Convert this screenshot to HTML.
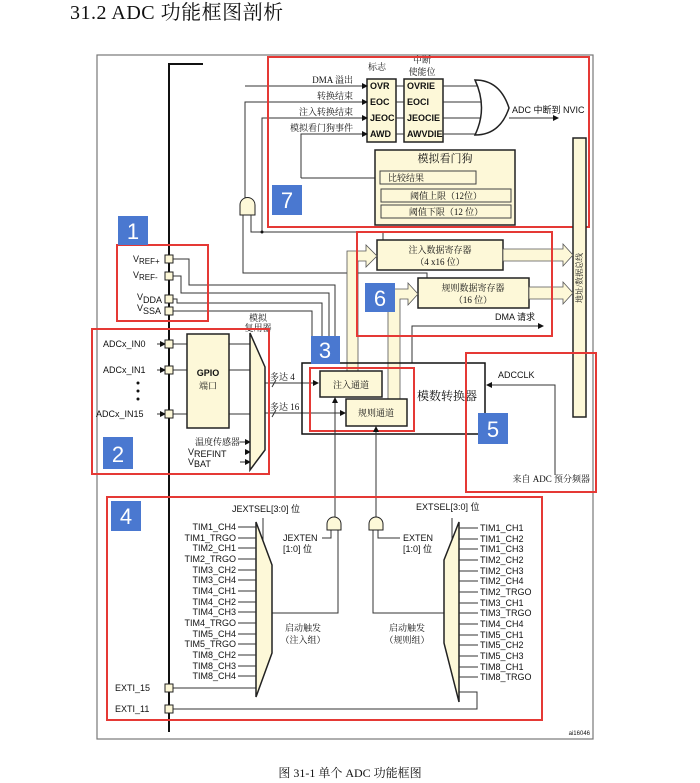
<!DOCTYPE html>
<html><head><meta charset="utf-8"><style>
html,body{margin:0;padding:0;background:#fff;}
svg{display:block;}
text{font-family:"Liberation Sans","Noto Sans CJK SC",sans-serif;fill:#111;}
.s{font-size:9px;}
.c{font-family:"Liberation Serif","Noto Serif CJK SC",serif;font-size:9px;}
.ln{stroke:#333;stroke-width:1;fill:none;}
.y{fill:#fdf8d8;stroke:#222;stroke-width:1.5;}
.r{fill:none;stroke:#e53935;stroke-width:2;}
.b{fill:#4a78d0;}
.bn{fill:#fff;font-size:22px;font-family:"Liberation Sans",sans-serif;}
.pad{fill:#fdf8d8;stroke:#222;stroke-width:1;}
</style></head><body>
<svg width="700" height="783" viewBox="0 0 700 783" xmlns="http://www.w3.org/2000/svg">
<defs><marker id="a" markerWidth="6" markerHeight="6" refX="5" refY="3" orient="auto"><path d="M0,0 L6,3 L0,6z" fill="#111"/></marker></defs>
<text x="70" y="19" style="font-family:'Liberation Serif','Noto Serif CJK SC',serif;font-size:20px;letter-spacing:0.5px">31.2  ADC 功能框图剖析</text>
<rect x="97" y="55" width="496" height="684" fill="none" stroke="#777" stroke-width="1.2"/>
<text x="350" y="777" text-anchor="middle" style="font-family:'Liberation Serif','Noto Serif CJK SC',serif;font-size:12px">图 31-1 单个 ADC 功能框图</text>
<text x="590" y="735" text-anchor="end" style="font-size:6px">ai16046</text>

<path d="M203,64 H169 V732" stroke="#111" stroke-width="2" fill="none"/>

<text x="377" y="70" class="c" text-anchor="middle">标志</text>
<text x="422" y="63" class="c" text-anchor="middle">中断</text>
<text x="422" y="75" class="c" text-anchor="middle">使能位</text>
<rect x="367" y="79" width="29" height="63" class="y"/>
<rect x="404" y="79" width="39" height="63" class="y"/>
<g class="s" font-weight="bold">
<text x="370" y="89">OVR</text><text x="370" y="105">EOC</text><text x="370" y="121">JEOC</text><text x="370" y="137">AWD</text>
<text x="407" y="89">OVRIE</text><text x="407" y="105">EOCI</text><text x="407" y="121">JEOCIE</text><text x="407" y="137">AWVDIE</text>
</g>
<g class="ln">
<path d="M245,86 H367" marker-end="url(#a)"/>
<path d="M245,198 V102 H367" marker-end="url(#a)"/>
<path d="M262,232 V118 H367" marker-end="url(#a)"/>
<path d="M301,178 V134 H367" marker-end="url(#a)"/>
<path d="M301,178 H380"/>
<path d="M396,86 H404 M396,102 H404 M396,118 H404 M396,134 H404"/>
<path d="M443,86 H480 M443,102 H484 M443,118 H484 M443,134 H480"/>
<path d="M509,118 H558" marker-end="url(#a)"/>
</g>
<path d="M475,80 Q500,80 509,108 Q500,135 475,135 Q488,108 475,80z" fill="#fff" stroke="#222" stroke-width="1.5"/>
<text x="353" y="83" class="c" text-anchor="end">DMA 溢出</text>
<text x="353" y="99" class="c" text-anchor="end">转换结束</text>
<text x="353" y="115" class="c" text-anchor="end">注入转换结束</text>
<text x="353" y="131" class="c" text-anchor="end">模拟看门狗事件</text>
<text x="512" y="113" class="s">ADC 中断到 NVIC</text>
<rect x="375" y="150" width="140" height="75" class="y"/>
<text x="445" y="162" class="c" text-anchor="middle" style="font-size:11px">模拟看门狗</text>
<rect x="380" y="171" width="96" height="13" fill="#fdf8d8" stroke="#444"/>
<text x="388" y="181" class="c">比较结果</text>
<rect x="381" y="189" width="130" height="13" fill="#fdf8d8" stroke="#444"/>
<text x="446" y="199" class="c" text-anchor="middle">阈值上限（12位）</text>
<rect x="381" y="205" width="130" height="13" fill="#fdf8d8" stroke="#444"/>
<text x="446" y="215" class="c" text-anchor="middle">阈值下限（12 位）</text>
<path d="M240,215 V205 A7.5,7.5 0 0 1 255,205 V215z" fill="#fdf8d8" stroke="#222"/>
<g class="ln"><path d="M243,215 V273 H427 V278"/><path d="M251,215 V232 H383 V240"/></g>
<circle cx="262" cy="232" r="1.5" fill="#111"/>
<rect x="268" y="57" width="321" height="170" class="r"/>
<rect x="272" y="185" width="30" height="30" class="b"/><text x="287" y="208" class="bn" text-anchor="middle">7</text>

<rect x="573" y="138" width="13" height="279" fill="#fdf8d8" stroke="#222" stroke-width="1.5"/>
<text transform="translate(582,278) rotate(-90)" class="c" text-anchor="middle" style="font-size:8px">地址/数据总线</text>

<rect x="377" y="240" width="126" height="30" class="y"/>
<text x="440" y="253" class="c" text-anchor="middle">注入数据寄存器</text>
<text x="440" y="265" class="c" text-anchor="middle">（4 x16 位）</text>
<rect x="418" y="278" width="111" height="30" class="y"/>
<text x="473" y="291" class="c" text-anchor="middle">规则数据寄存器</text>
<text x="473" y="303" class="c" text-anchor="middle">（16 位）</text>
<g fill="#fdf8d8" stroke="#555" stroke-width="0.8">
<path d="M503,249 H563 V244 L573,255 L563,266 V261 H503z"/>
<path d="M529,287 H563 V282 L573,293 L563,304 V299 H529z"/>
<path d="M347,371 V251 H366 V245 L377,256 L366,267 V261 H358 V371z"/>
<path d="M388,399 V289 H408 V283 L418,294 L408,305 V299 H400 V399z"/>
</g>
<path d="M412,363 V326 H543" class="ln" marker-end="url(#a)"/>
<text x="495" y="320" class="s">DMA 请求</text>
<rect x="357" y="232" width="195" height="104" class="r"/>
<rect x="365" y="283" width="30" height="29" class="b"/><text x="380" y="306" class="bn" text-anchor="middle">6</text>

<g class="ln">
<path d="M173,259 H189 V285 H335 V363"/>
<path d="M173,276 H181 V293 H329 V363"/>
<path d="M173,299 H177 V303 H322 V363"/>
<path d="M173,311 H312 V363"/>
</g>
<rect x="165" y="255" width="8" height="8" class="pad"/>
<rect x="165" y="272" width="8" height="8" class="pad"/>
<rect x="165" y="295" width="8" height="8" class="pad"/>
<rect x="165" y="307" width="8" height="8" class="pad"/>
<text x="133" y="262" class="s">V<tspan dy="2" font-size="8">REF+</tspan></text>
<text x="133" y="278" class="s">V<tspan dy="2" font-size="8">REF-</tspan></text>
<text x="137" y="300" class="s">V<tspan dy="3" font-size="9">DDA</tspan></text>
<text x="137" y="311" class="s">V<tspan dy="3" font-size="9">SSA</tspan></text>
<rect x="117" y="245" width="91" height="76" class="r"/>
<rect x="118" y="216" width="30" height="29" class="b"/><text x="133" y="239" class="bn" text-anchor="middle">1</text>

<g class="s">
<text x="103" y="347">ADCx_IN0</text><text x="103" y="373">ADCx_IN1</text><text x="96" y="417">ADCx_IN15</text>
</g>
<g class="ln">
<path d="M157,344 H165" marker-end="url(#a)"/><path d="M157,370 H165" marker-end="url(#a)"/><path d="M157,414 H165" marker-end="url(#a)"/>
<path d="M173,344 H187 M173,370 H187 M173,414 H187"/>
<path d="M229,344 H252 M229,370 H254 M229,414 H254"/>
<path d="M240,442 H250" marker-end="url(#a)"/><path d="M246,452 H250" marker-end="url(#a)"/><path d="M240,462 H250" marker-end="url(#a)"/>
<path d="M265,383 H318" marker-end="url(#a)"/><path d="M265,413 H345" marker-end="url(#a)"/>
<path d="M272,387 L276,380 M272,417 L276,410"/>
</g>
<rect x="165" y="340" width="8" height="8" class="pad"/>
<rect x="165" y="366" width="8" height="8" class="pad"/>
<rect x="165" y="410" width="8" height="8" class="pad"/>
<circle cx="138" cy="383" r="1.5" fill="#111"/><circle cx="138" cy="391" r="1.5" fill="#111"/><circle cx="138" cy="399" r="1.5" fill="#111"/>
<rect x="187" y="334" width="42" height="94" class="y"/>
<text x="208" y="376" class="s" text-anchor="middle" font-weight="bold">GPIO</text>
<text x="208" y="389" class="c" text-anchor="middle">端口</text>
<path d="M250,333 L265,367 V450 L250,470z" class="y" stroke-width="1"/>
<text x="258" y="321" class="c" text-anchor="middle">模拟</text>
<text x="258" y="331" class="c" text-anchor="middle">复用器</text>
<text x="240" y="445" class="c" text-anchor="end">温度传感器</text>
<text x="188" y="455" class="s">V<tspan dy="2">REFINT</tspan></text>
<text x="188" y="465" class="s">V<tspan dy="2">BAT</tspan></text>
<text x="270" y="380" class="c">多达 4</text>
<text x="270" y="410" class="c">多达 16</text>
<rect x="92" y="329" width="177" height="145" class="r"/>
<rect x="103" y="437" width="30" height="32" class="b"/><text x="118" y="462" class="bn" text-anchor="middle">2</text>

<rect x="302" y="363" width="183" height="71" fill="none" stroke="#111" stroke-width="1.5"/>
<rect x="320" y="371" width="62" height="26" class="y" stroke-width="1"/>
<text x="351" y="388" class="c" text-anchor="middle">注入通道</text>
<rect x="346" y="399" width="61" height="27" class="y" stroke-width="1"/>
<text x="376" y="416" class="c" text-anchor="middle">规则通道</text>
<text x="417" y="400" class="c" style="font-size:12px">模数转换器</text>
<rect x="310" y="368" width="104" height="63" class="r"/>
<rect x="311" y="336" width="29" height="28" class="b"/><text x="325" y="358" class="bn" text-anchor="middle">3</text>

<path d="M555,475 V385 H487" class="ln" marker-end="url(#a)"/>
<text x="498" y="378" class="s">ADCCLK</text>
<text x="590" y="482" class="c" text-anchor="end">来自 ADC 预分频器</text>
<rect x="466" y="353" width="130" height="139" class="r"/>
<rect x="478" y="413" width="30" height="31" class="b"/><text x="493" y="437" class="bn" text-anchor="middle">5</text>

<g class="ln">
<path d="M335,518 V398" marker-end="url(#a)"/>
<path d="M376,518 V427" marker-end="url(#a)"/>
<path d="M338,530 V613 H272"/>
<path d="M373,530 V613 H444"/>
<path d="M322,538 H331 V530"/>
<path d="M400,538 H378 V530"/>
<path d="M263,518 V545"/><path d="M452,518 V545"/>
<path d="M173,688 H256"/>
<path d="M173,709 H477 V692 H459"/>
</g>
<path d="M327,530 V524 A7,7 0 0 1 341,524 V530z" fill="#fdf8d8" stroke="#222"/>
<path d="M369,530 V524 A7,7 0 0 1 383,524 V530z" fill="#fdf8d8" stroke="#222"/>
<path d="M256,522 L272,565 V653 L256,697z" class="y" stroke-width="1"/>
<path d="M459,522 L444,560 V643 L459,702z" class="y" stroke-width="1"/>
<g class="s" text-anchor="end">
<text x="236" y="530">TIM1_CH4</text><text x="236" y="541">TIM1_TRGO</text><text x="236" y="551">TIM2_CH1</text><text x="236" y="562">TIM2_TRGO</text><text x="236" y="573">TIM3_CH2</text><text x="236" y="583">TIM3_CH4</text><text x="236" y="594">TIM4_CH1</text><text x="236" y="605">TIM4_CH2</text><text x="236" y="615">TIM4_CH3</text><text x="236" y="626">TIM4_TRGO</text><text x="236" y="637">TIM5_CH4</text><text x="236" y="647">TIM5_TRGO</text><text x="236" y="658">TIM8_CH2</text><text x="236" y="669">TIM8_CH3</text><text x="236" y="679">TIM8_CH4</text>
</g>
<g class="ln">
<path d="M238,527H256M238,538H256M238,548H256M238,559H256M238,570H256M238,580H256M238,591H256M238,602H256M238,612H256M238,623H256M238,634H256M238,644H256M238,655H256M238,666H256M238,676H256"/>
<path d="M459,528H478M459,539H478M459,549H478M459,560H478M459,571H478M459,581H478M459,592H478M459,603H478M459,613H478M459,624H478M459,635H478M459,645H478M459,656H478M459,667H478M459,677H478"/>
</g>
<g class="s">
<text x="480" y="531">TIM1_CH1</text><text x="480" y="542">TIM1_CH2</text><text x="480" y="552">TIM1_CH3</text><text x="480" y="563">TIM2_CH2</text><text x="480" y="574">TIM2_CH3</text><text x="480" y="584">TIM2_CH4</text><text x="480" y="595">TIM2_TRGO</text><text x="480" y="606">TIM3_CH1</text><text x="480" y="616">TIM3_TRGO</text><text x="480" y="627">TIM4_CH4</text><text x="480" y="638">TIM5_CH1</text><text x="480" y="648">TIM5_CH2</text><text x="480" y="659">TIM5_CH3</text><text x="480" y="670">TIM8_CH1</text><text x="480" y="680">TIM8_TRGO</text>
</g>
<text x="232" y="512" class="s">JEXTSEL[3:0] 位</text>
<text x="416" y="510" class="s">EXTSEL[3:0] 位</text>
<text x="283" y="541" class="s">JEXTEN</text><text x="283" y="552" class="s">[1:0] 位</text>
<text x="403" y="541" class="s">EXTEN</text><text x="403" y="552" class="s">[1:0] 位</text>
<text x="303" y="631" class="c" text-anchor="middle">启动触发</text><text x="303" y="643" class="c" text-anchor="middle">（注入组）</text>
<text x="407" y="631" class="c" text-anchor="middle">启动触发</text><text x="407" y="643" class="c" text-anchor="middle">（规则组）</text>
<text x="115" y="691" class="s">EXTI_15</text>
<text x="115" y="712" class="s">EXTI_11</text>
<rect x="165" y="684" width="8" height="8" class="pad"/>
<rect x="165" y="705" width="8" height="8" class="pad"/>
<rect x="107" y="497" width="435" height="223" class="r"/>
<rect x="111" y="501" width="30" height="30" class="b"/><text x="126" y="524" class="bn" text-anchor="middle">4</text>
</svg>
</body></html>
